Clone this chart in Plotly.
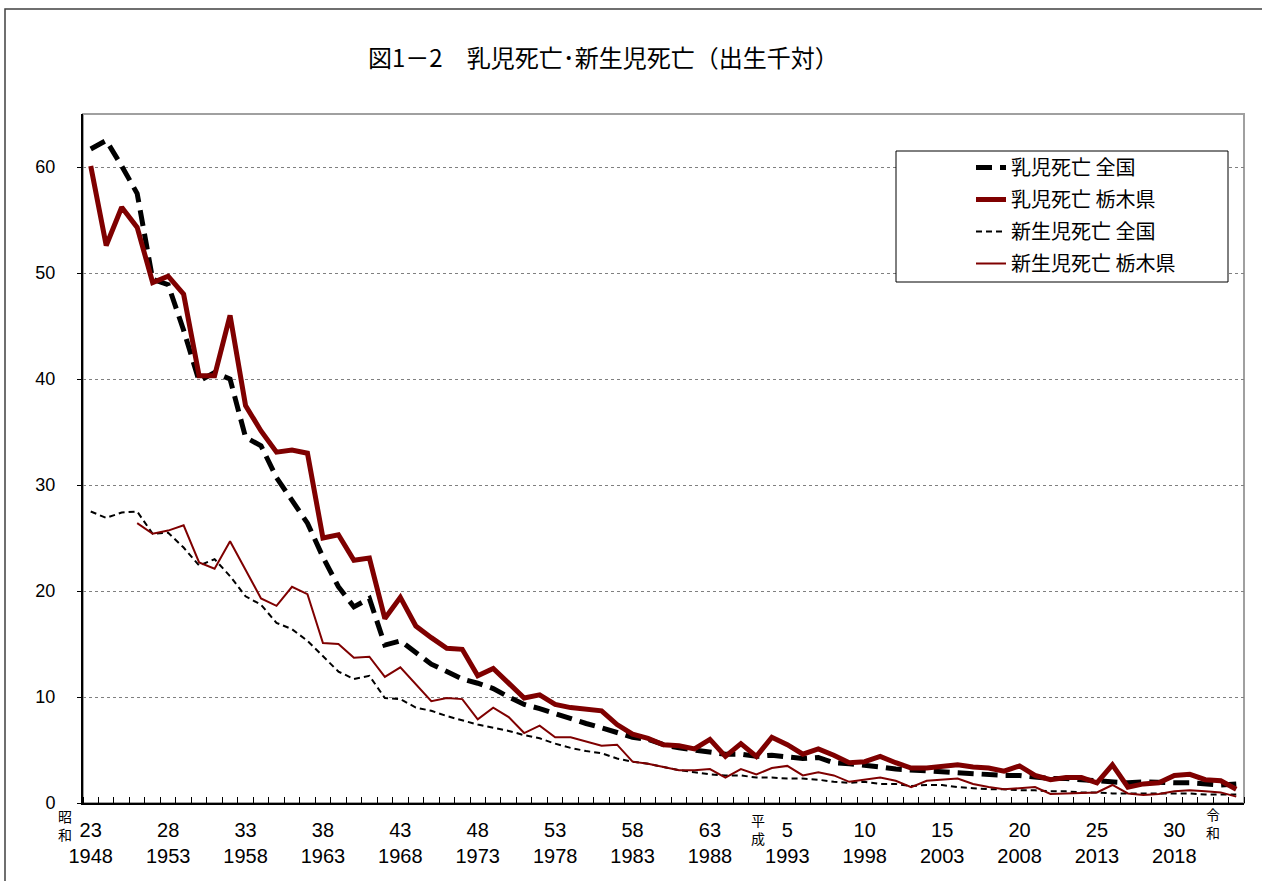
import plotly.graph_objects as go

years = list(range(1948, 2023))

infant_national = [
    61.7, 62.5, 60.1, 57.5, 49.4, 48.9, 44.6, 39.8, 40.6, 40.0,
    34.5, 33.7, 30.7, 28.6, 26.4, 23.2, 20.4, 18.5, 19.3, 14.9,
    15.3, 14.2, 13.1, 12.4, 11.7, 11.3, 10.8, 10.0, 9.3, 8.9,
    8.4, 7.9, 7.5, 7.1, 6.6, 6.2, 6.0, 5.5, 5.2, 5.0,
    4.8, 4.6, 4.6, 4.4, 4.5, 4.3, 4.2, 4.3, 3.8, 3.7,
    3.6, 3.4, 3.2, 3.1, 3.0, 3.0, 2.8, 2.8, 2.6, 2.6,
    2.6, 2.4, 2.3, 2.3, 2.2, 2.1, 2.1, 1.9, 2.0, 1.9,
    1.9, 1.9, 1.8, 1.7, 1.8,
]

infant_tochigi = [
    60.1, 52.6, 56.2, 54.3, 49.1, 49.7, 48.0, 40.3, 40.3, 46.0,
    37.5, 35.1, 33.1, 33.3, 33.0, 25.0, 25.3, 22.9, 23.1, 17.4,
    19.4, 16.7, 15.6, 14.6, 14.5, 12.0, 12.7, 11.3, 9.9, 10.2,
    9.3, 9.0, 8.8, 8.7, 7.4, 6.5, 6.1, 5.5, 5.4, 5.1,
    6.0, 4.4, 5.6, 4.4, 6.2, 5.5, 4.6, 5.1, 4.5, 3.8,
    3.9, 4.4, 3.8, 3.3, 3.3, 3.5, 3.6, 3.4, 3.3, 3.0,
    3.5, 2.6, 2.2, 2.4, 2.4, 1.9, 3.6, 1.5, 1.8, 1.9,
    2.6, 2.7, 2.2, 2.1, 1.3,
]

neonatal_national = [
    27.5, 26.9, 27.4, 27.5, 25.4, 25.5, 24.1, 22.4, 23.0, 21.4,
    19.5, 18.7, 17.0, 16.4, 15.3, 13.8, 12.4, 11.7, 12.0, 9.9,
    9.8, 9.0, 8.7, 8.2, 7.8, 7.4, 7.1, 6.8, 6.4, 6.1,
    5.6, 5.2, 4.9, 4.7, 4.2, 3.9, 3.7, 3.4, 3.1, 2.9,
    2.7, 2.6, 2.6, 2.4, 2.4, 2.3, 2.3, 2.2, 2.0, 1.9,
    2.0, 1.8, 1.8, 1.6, 1.7, 1.7, 1.5, 1.4, 1.3, 1.3,
    1.2, 1.2, 1.1, 1.1, 1.0, 1.0, 0.9, 0.9, 0.9, 0.9,
    0.9, 0.9, 0.8, 0.8, 0.8,
]

neonatal_tochigi = [
    None, None, None, 26.4, 25.4, 25.7, 26.2, 22.7, 22.1, 24.7,
    22.0, 19.3, 18.6, 20.4, 19.7, 15.1, 15.0, 13.7, 13.8, 11.9,
    12.8, 11.2, 9.6, 9.9, 9.8, 7.9, 9.0, 8.1, 6.6, 7.3,
    6.2, 6.2, 5.8, 5.4, 5.5, 3.9, 3.7, 3.4, 3.1, 3.1,
    3.2, 2.4, 3.2, 2.7, 3.3, 3.5, 2.6, 2.9, 2.6, 2.0,
    2.2, 2.4, 2.1, 1.5, 2.1, 2.2, 2.3, 1.8, 1.5, 1.3,
    1.4, 1.5, 0.85, 0.9, 1.0, 1.0, 1.7, 0.9, 0.75, 0.85,
    1.1, 1.2, 1.1, 1.0, 0.6,
]

tick_years = [1948, 1953, 1958, 1963, 1968, 1973, 1978, 1983, 1988,
              1993, 1998, 2003, 2008, 2013, 2018]
tick_era = ["23", "28", "33", "38", "43", "48", "53", "58", "63",
            "5", "10", "15", "20", "25", "30"]
y_ticks = [0, 10, 20, 30, 40, 50, 60]

series_names = ["乳児死亡 全国", "乳児死亡 栃木県", "新生児死亡 全国", "新生児死亡 栃木県"]
title_text = "図1－2　乳児死亡･新生児死亡（出生千対）"

FONT = "Noto Sans CJK JP, Noto Sans, sans-serif"
NUMFONT = "Liberation Sans, Arial, sans-serif"
RED = "#7f0000"

W, H = 1262, 881
L, R, T, B = 83, 18, 114, 78
PW, PH = W - L - R, H - T - B


def px(x):
    return (x - L) / PW


def py(y):
    return (H - B - y) / PH


fig = go.Figure()
fig.add_trace(go.Scatter(x=years, y=infant_national, name=series_names[0], mode="lines",
                         line=dict(color="black", width=5, dash="16px,8px"),
                         legendgroup="a", legendrank=1))
fig.add_trace(go.Scatter(x=years, y=infant_tochigi, name=series_names[1], mode="lines",
                         line=dict(color=RED, width=5),
                         legendgroup="b", legendrank=2))
fig.add_trace(go.Scatter(x=years, y=neonatal_national, name=series_names[2], mode="lines",
                         line=dict(color="black", width=2, dash="6px,4px"),
                         legendgroup="c", legendrank=3))
fig.add_trace(go.Scatter(x=years, y=neonatal_tochigi, name=series_names[3], mode="lines",
                         line=dict(color=RED, width=2), connectgaps=False,
                         legendgroup="d", legendrank=4))

shapes = [
    # outer chart frame
    dict(type="rect", xref="paper", yref="paper",
         x0=px(5), x1=px(1275), y0=py(895), y1=py(9),
         line=dict(color="#404040", width=1.5), layer="below"),
    # plot area border (gray top/right)
    dict(type="rect", xref="paper", yref="paper", x0=0, x1=1, y0=0, y1=1,
         line=dict(color="#a0a0a0", width=2), layer="below"),
    # legend box
    dict(type="rect", xref="paper", yref="paper",
         x0=px(896), x1=px(1228), y0=py(282), y1=py(151),
         line=dict(color="black", width=1), fillcolor="white", layer="above"),
]

annotations = [
    dict(text=title_text, xref="paper", yref="paper", x=px(603), y=py(57),
         xanchor="center", yanchor="middle", showarrow=False,
         font=dict(family=FONT, size=24, color="black")),
    dict(text="昭<br>和", xref="paper", yref="paper", x=px(65), y=py(825),
         xanchor="center", yanchor="middle", showarrow=False,
         font=dict(family=FONT, size=14, color="black")),
    dict(text="平<br>成", xref="paper", yref="paper", x=px(758), y=py(829),
         xanchor="center", yanchor="middle", showarrow=False,
         font=dict(family=FONT, size=14, color="black")),
    dict(text="令<br>和", xref="paper", yref="paper", x=px(1213), y=py(823),
         xanchor="center", yanchor="middle", showarrow=False,
         font=dict(family=FONT, size=14, color="black")),
]

fig.update_layout(
    width=W, height=H,
    margin=dict(l=L, r=R, t=T, b=B, pad=0),
    paper_bgcolor="white", plot_bgcolor="white",
    font=dict(family=FONT, color="black"),
    showlegend=True,
    legend=dict(x=px(971), y=py(148), xanchor="left", yanchor="top",
                bgcolor="rgba(0,0,0,0)", borderwidth=0,
                font=dict(family=FONT, size=20, color="black"),
                tracegroupgap=3, itemwidth=30),
    shapes=shapes,
    annotations=annotations,
    xaxis=dict(range=[1947.5, 2022.5], tickmode="array", tickvals=tick_years,
               ticktext=[f"{e}<br>{y}" for e, y in zip(tick_era, tick_years)],
               ticks="", showgrid=False, zeroline=False,
               showline=True, linecolor="black", linewidth=2,
               ticklabelstandoff=8,
               tickfont=dict(family=NUMFONT, size=20, color="black"),
               minor=dict(tickmode="linear", tick0=1947.5, dtick=1, ticks="inside",
                          ticklen=6, tickcolor="black", tickwidth=1, showgrid=False)),
    yaxis=dict(range=[0, 65], tickmode="array", tickvals=y_ticks,
               ticks="outside", ticklen=4, tickcolor="black", tickwidth=1,
               showgrid=True, gridcolor="#808080", gridwidth=1, griddash="dot",
               zeroline=False, showline=True, linecolor="black", linewidth=2,
               ticklabelstandoff=18,
               tickfont=dict(family=NUMFONT, size=18, color="black")),
)

fig.write_html("out.html", config={"displayModeBar": False},
               post_script="document.body.style.margin='0';")
